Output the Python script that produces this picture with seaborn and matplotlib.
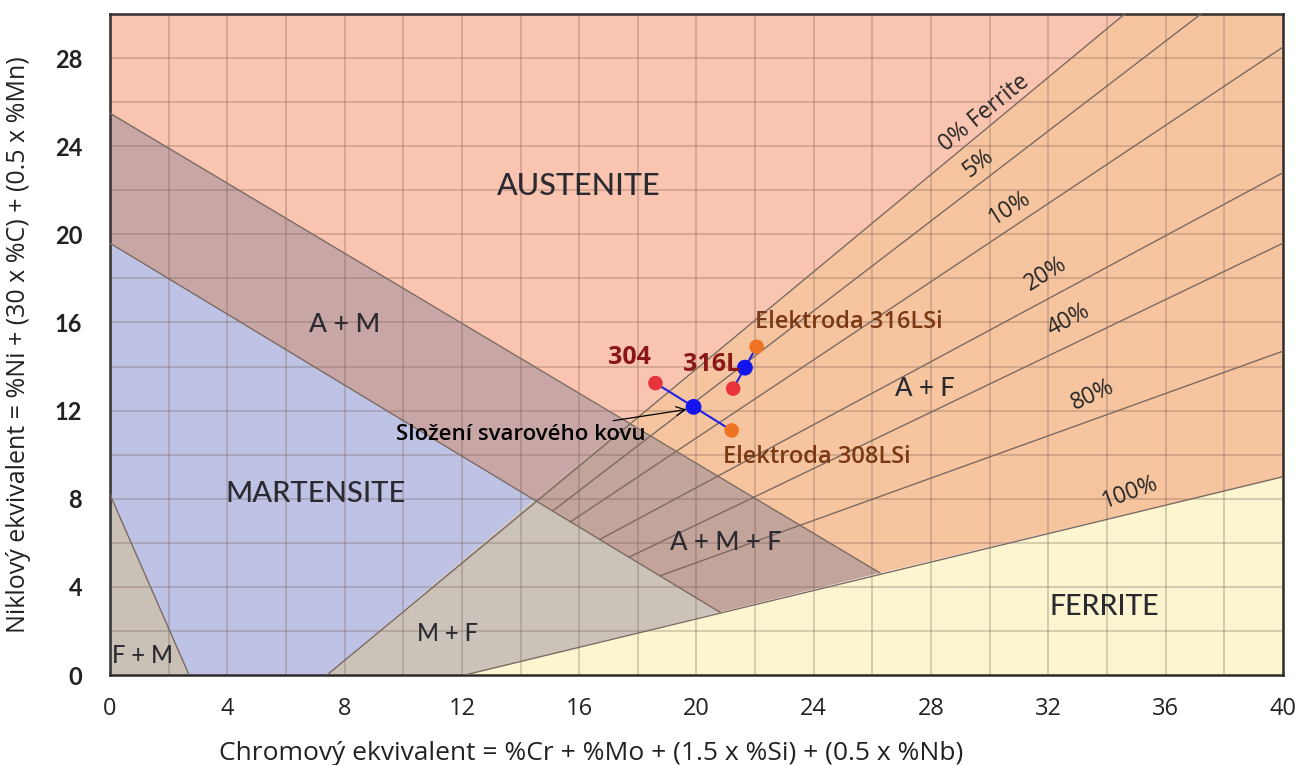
import numpy as np
import pandas as pd
import matplotlib.pyplot as plt
import seaborn as sns

# phase fields of the Schaeffler diagram (Cr eq, Ni eq corners)
austenite_x = [0, 0, 34.6, 17.7]
austenite_y = [25.5, 30, 30, 11.4]
af_x = [34.6, 40, 40, 26.26, 17.7]
af_y = [30, 30, 9.0, 4.63, 11.4]
am_x = [0, 17.7, 14.45, 0]
am_y = [25.5, 11.4, 7.95, 19.6]
amf_x = [17.7, 26.26, 20.8, 14.45]
amf_y = [11.4, 4.63, 2.85, 7.95]
mart_x = [0, 14.45, 7.4, 2.7, 0]
mart_y = [19.6, 7.95, 0, 0, 8.2]
fm_x = [0, 2.7, 0]
fm_y = [8.2, 0, 0]
mf_x = [14.45, 20.8, 12.1, 7.4]
mf_y = [7.95, 2.85, 0, 0]
ferr_x = [12.1, 40, 40]
ferr_y = [0, 0, 9.0]

fields = {
    'A': (austenite_x, austenite_y, '#f9c5b0'),
    'A+F': (af_x, af_y, '#f6c59f'),
    'A+M': (am_x, am_y, '#c8a6a6'),
    'A+M+F': (amf_x, amf_y, '#c3a49b'),
    'M': (mart_x, mart_y, '#bec3e5'),
    'F+M': (fm_x, fm_y, '#c9c0b6'),
    'M+F': (mf_x, mf_y, '#cbc3ba'),
    'F': (ferr_x, ferr_y, '#fbf6cf'),
}

# field boundaries
bound_x0 = [0, 0, 7.4, 12.1, 0]
bound_y0 = [25.5, 19.6, 0, 0, 8.2]
bound_x1 = [26.26, 20.8, 34.6, 40, 2.7]
bound_y1 = [4.63, 2.85, 30, 9.0, 0]

# ferrite iso lines
iso_x0 = [15.1, 15.7, 16.7, 17.7, 18.75]
iso_y0 = [7.45, 6.95, 6.15, 5.35, 4.5]
iso_x1 = [37.2, 40, 40, 40, 40]
iso_y1 = [30, 28.5, 22.8, 19.6, 14.7]

pct_labels = ['0% Ferrite', '5%', '10%', '20%', '40%', '80%', '100%']
pct_x = [29.8, 29.6, 30.7, 31.9, 32.7, 33.5, 34.8]
pct_y = [25.5, 23.2, 21.2, 18.2, 16.1, 12.7, 8.3]
pct_rot = [39, 38, 32, 32, 28, 25, 20]

field_labels = ['AUSTENITE', 'A + M', 'MARTENSITE', 'A + F', 'A + M + F', 'M + F', 'F + M', 'FERRITE']
field_x = [16.0, 8.0, 7.0, 27.8, 21.0, 11.5, 1.1, 33.9]
field_y = [22.2, 15.9, 8.2, 13.0, 6.0, 1.9, 0.9, 3.1]
field_size = [22, 19, 21, 18.5, 18.5, 17, 17, 20.5]

# materials
mat_names = ['304', '316L', 'Elektroda 316LSi', 'Elektroda 308LSi']
mat_cr = [18.6, 21.25, 22.05, 21.2]
mat_ni = [13.25, 13.0, 14.9, 11.1]
mat_kind = ['base', 'base', 'filler', 'filler']

# weld metal
weld_cr = [19.9, 21.65]
weld_ni = [12.17, 13.95]

mats = pd.DataFrame({'name': mat_names, 'cr': mat_cr, 'ni': mat_ni, 'kind': mat_kind})

sns.set_style('white')
plt.rcParams['font.family'] = ['Open Sans', 'DejaVu Sans']

fig = plt.figure(figsize=(13.01, 7.65), dpi=100)
ax = fig.add_axes([0.0845, 0.1176, 0.9017, 0.8641])

for key, (xs, ys, col) in fields.items():
    ax.fill(xs, ys, color=col, lw=0, zorder=1)

for i in range(len(bound_x0)):
    ax.plot([bound_x0[i], bound_x1[i]], [bound_y0[i], bound_y1[i]], color='#7c6a62', lw=1.0, zorder=3)
for i in range(len(iso_x0)):
    ax.plot([iso_x0[i], iso_x1[i]], [iso_y0[i], iso_y1[i]], color='#7c6a62', lw=1.0, zorder=3)

# tie lines base metal - filler, through weld point
sns.lineplot(x=[mat_cr[0], mat_cr[3]], y=[mat_ni[0], mat_ni[3]], color='#2020e0', lw=1.5, sort=False, ax=ax, zorder=4)
sns.lineplot(x=[mat_cr[1], mat_cr[2]], y=[mat_ni[1], mat_ni[2]], color='#2020e0', lw=1.5, sort=False, ax=ax, zorder=4)

sns.scatterplot(data=mats, x='cr', y='ni', hue='kind', palette={'base': '#e8323c', 'filler': '#ee7424'},
                s=110, edgecolor='none', legend=False, ax=ax, zorder=5)
sns.scatterplot(x=weld_cr, y=weld_ni, color='#1414ee', s=130, edgecolor='none', legend=False, ax=ax, zorder=6)

# texts
for t, x, y, r in zip(pct_labels, pct_x, pct_y, pct_rot):
    ax.text(x, y, t, rotation=r, ha='center', va='center', fontsize=16.5, color='#262626', zorder=6,
            rotation_mode='anchor')
for t, x, y, s in zip(field_labels, field_x, field_y, field_size):
    ax.text(x, y, t, ha='center', va='center', fontsize=s, color='#2a2a30', family='Lato',
            fontweight='medium', zorder=6)

ax.text(17.7, 14.4, '304', ha='center', va='center', fontsize=18, fontweight='bold', color='#8a1818', zorder=7)
ax.text(20.5, 14.1, '316L', ha='center', va='center', fontsize=18, fontweight='bold', color='#8a1818', zorder=7)
ax.text(25.2, 16.0, 'Elektroda 316LSi', ha='center', va='center', fontsize=17, fontweight='semibold', color='#7a3814', zorder=7)
ax.text(24.1, 9.9, 'Elektroda 308LSi', ha='center', va='center', fontsize=17, fontweight='semibold', color='#7a3814', zorder=7)
ax.annotate('Složení svarového kovu', xy=(weld_cr[0] - 0.15, weld_ni[0] - 0.1), xytext=(18.25, 10.9),
            ha='right', va='center', fontsize=16, fontweight='semibold', color='black', zorder=7,
            arrowprops=dict(arrowstyle='->', color='black', lw=0.9))

ax.set_xlim(0, 40)
ax.set_ylim(0, 30)
ax.set_xticks(range(0, 41, 4))
ax.set_yticks(range(0, 29, 4))
ax.set_xticks(range(0, 41, 2), minor=True)
ax.set_yticks(range(0, 31, 2), minor=True)
ax.grid(which='both', color='#6e5048', alpha=0.3, lw=1.2)
ax.set_axisbelow(False)
for gl in ax.get_xgridlines() + ax.get_ygridlines():
    gl.set_zorder(2)
ax.tick_params(which='both', length=0)
ax.tick_params(axis='x', pad=16, labelsize=17, labelcolor='#222222')
ax.tick_params(axis='y', pad=20, labelsize=17, labelcolor='#222222')
for lab in ax.get_yticklabels():
    lab.set_family('Lato')
    lab.set_fontweight('bold')

for sp in ax.spines.values():
    sp.set_color('#2a2a2a')
    sp.set_linewidth(1.8)

ax.set_xlabel('Chromový ekvivalent = %Cr + %Mo + (1.5 x %Si) + (0.5 x %Nb)', fontsize=19, color='#222222')
ax.set_ylabel('Niklový ekvivalent = %Ni + (30 x %C) + (0.5 x %Mn)', fontsize=18, color='#222222')
ax.xaxis.set_label_coords(0.41, -0.1)
ax.yaxis.set_label_coords(-0.067, 0.5)

plt.savefig('out.png', dpi=100)
